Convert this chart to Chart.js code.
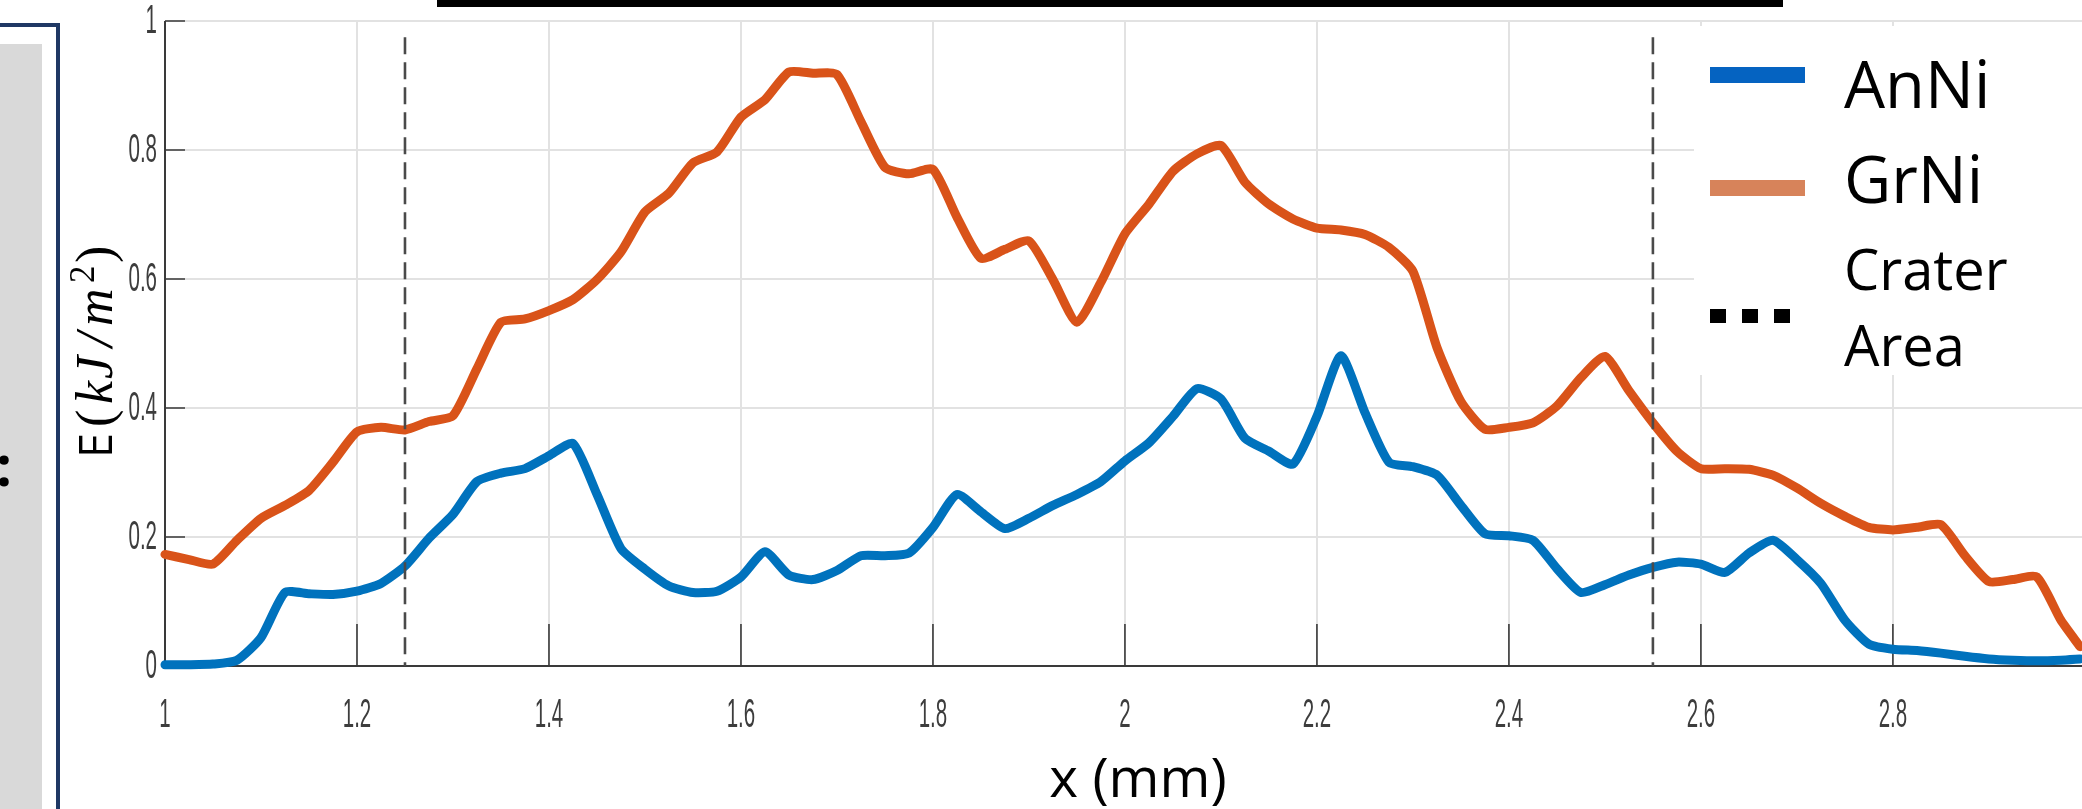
<!DOCTYPE html>
<html>
<head>
<meta charset="utf-8">
<script src="https://cdn.jsdelivr.net/npm/chart.js@4.4.1/dist/chart.umd.min.js"></script>
<style>
  html, body { margin: 0; padding: 0; background: #ffffff; }
</style>
</head>
<body>
<canvas id="energyChart" width="2082" height="809"></canvas>
<script>
// x positions along the crater profile (mm)
const positions = [
  1.000, 1.025, 1.050, 1.075, 1.100, 1.125, 1.150, 1.175, 1.200, 1.225,
  1.250, 1.275, 1.300, 1.325, 1.350, 1.375, 1.400, 1.425, 1.450, 1.475,
  1.500, 1.525, 1.550, 1.575, 1.600, 1.625, 1.650, 1.675, 1.700, 1.725,
  1.750, 1.775, 1.800, 1.825, 1.850, 1.875, 1.900, 1.925, 1.950, 1.975,
  2.000, 2.025, 2.050, 2.075, 2.100, 2.125, 2.150, 2.175, 2.200, 2.225,
  2.250, 2.275, 2.300, 2.325, 2.350, 2.375, 2.400, 2.425, 2.450, 2.475,
  2.500, 2.525, 2.550, 2.575, 2.600, 2.625, 2.650, 2.675, 2.700, 2.725,
  2.750, 2.775, 2.800, 2.825, 2.850, 2.875, 2.900, 2.925, 2.950, 2.975,
  2.995
];

// energy density E (kJ/m^2)
const anNi = [
  0.002, 0.002, 0.003, 0.009, 0.044, 0.114, 0.112, 0.111, 0.116, 0.128,
  0.155, 0.198, 0.235, 0.286, 0.299, 0.306, 0.326, 0.345, 0.266, 0.182,
  0.150, 0.124, 0.114, 0.116, 0.138, 0.177, 0.141, 0.134, 0.148, 0.171,
  0.171, 0.175, 0.215, 0.266, 0.239, 0.213, 0.229, 0.249, 0.266, 0.286,
  0.318, 0.346, 0.387, 0.430, 0.414, 0.353, 0.333, 0.313, 0.387, 0.481,
  0.393, 0.316, 0.309, 0.296, 0.249, 0.205, 0.202, 0.195, 0.151, 0.114,
  0.126, 0.141, 0.153, 0.161, 0.158, 0.145, 0.175, 0.195, 0.165, 0.128,
  0.071, 0.034, 0.026, 0.024, 0.020, 0.015, 0.011, 0.009, 0.008, 0.009,
  0.011
];

const grNi = [
  0.173, 0.165, 0.158, 0.195, 0.229, 0.249, 0.272, 0.316, 0.363, 0.370,
  0.366, 0.379, 0.388, 0.461, 0.533, 0.538, 0.551, 0.568, 0.599, 0.642,
  0.704, 0.733, 0.780, 0.797, 0.851, 0.878, 0.921, 0.919, 0.917, 0.844,
  0.773, 0.763, 0.770, 0.696, 0.632, 0.646, 0.659, 0.599, 0.533, 0.595,
  0.670, 0.716, 0.767, 0.794, 0.807, 0.750, 0.716, 0.693, 0.679, 0.676,
  0.669, 0.649, 0.612, 0.494, 0.410, 0.367, 0.370, 0.377, 0.403, 0.447,
  0.480, 0.427, 0.377, 0.333, 0.306, 0.306, 0.305, 0.296, 0.276, 0.252,
  0.232, 0.215, 0.211, 0.215, 0.219, 0.171, 0.131, 0.134, 0.138, 0.071,
  0.030
];

const xTicks = [1, 1.2, 1.4, 1.6, 1.8, 2, 2.2, 2.4, 2.6, 2.8];
const xTickLabels = ["1", "1.2", "1.4", "1.6", "1.8", "2", "2.2", "2.4", "2.6", "2.8"];
const yTicks = [0, 0.2, 0.4, 0.6, 0.8, 1];
const yTickLabels = ["0", "0.2", "0.4", "0.6", "0.8", "1"];

// edges of the crater area (mm)
const craterEdges = [1.25, 2.55];

const seriesNames = ["AnNi", "GrNi"];
const lineColors = ["#0072BD", "#D95319"];
const legendColors = ["#0563C1", "#D7835A"];

function toPoints(values) {
  return positions.map((x, i) => ({ x: x, y: values[i] }));
}

// narrow MATLAB-style tick text
function narrowText(ctx, text, x, y, align) {
  ctx.save();
  ctx.translate(x, y);
  ctx.scale(0.5, 1);
  ctx.textAlign = align;
  ctx.textBaseline = "middle";
  ctx.fillText(text, 0, 0);
  ctx.restore();
}

// page furniture around the axes (left panel edge, top bar)
const framePlugin = {
  id: "frame",
  beforeDraw(chart) {
    const ctx = chart.ctx;
    ctx.save();
    ctx.fillStyle = "#ffffff";
    ctx.fillRect(0, 0, chart.width, chart.height);
    ctx.fillStyle = "#d9d9d9";
    ctx.fillRect(0, 44, 42, 809 - 44);
    ctx.fillStyle = "#1f3864";
    ctx.fillRect(56, 23, 4, 809 - 23);
    ctx.fillRect(0, 23, 60, 4);
    ctx.fillStyle = "#000000";
    ctx.fillRect(437, 0, 1346, 7);
    ctx.font = "bold 56px 'Open Sans'";
    ctx.textAlign = "right";
    ctx.textBaseline = "alphabetic";
    ctx.fillText(":", 12, 486);
    ctx.restore();
  }
};

// axis lines and inward ticks, drawn under the curves
const axesPlugin = {
  id: "axesLines",
  beforeDatasetsDraw(chart) {
    const ctx = chart.ctx;
    const xs = chart.scales.x;
    const ys = chart.scales.y;
    const area = chart.chartArea;
    ctx.save();
    ctx.strokeStyle = "#3a3a3a";
    ctx.lineWidth = 2;
    ctx.beginPath();
    ctx.moveTo(area.left, ys.getPixelForValue(1));
    ctx.lineTo(area.left, area.bottom);
    ctx.lineTo(area.right, area.bottom);
    ctx.stroke();
    ctx.lineWidth = 1.6;
    ctx.beginPath();
    xTicks.forEach(v => {
      const px = xs.getPixelForValue(v);
      ctx.moveTo(px, area.bottom);
      ctx.lineTo(px, area.bottom - 42);
    });
    yTicks.forEach(v => {
      const py = ys.getPixelForValue(v);
      ctx.moveTo(area.left, py);
      ctx.lineTo(area.left + 20, py);
    });
    ctx.stroke();
    ctx.restore();
  }
};

// crater lines, legend, tick labels and axis titles
const overlayPlugin = {
  id: "overlay",
  afterDatasetsDraw(chart) {
    const ctx = chart.ctx;
    const xs = chart.scales.x;
    const ys = chart.scales.y;
    const area = chart.chartArea;
    ctx.save();

    // crater area markers
    ctx.strokeStyle = "#4a4a4a";
    ctx.lineWidth = 2.6;
    ctx.setLineDash([17, 8]);
    craterEdges.forEach(v => {
      const px = xs.getPixelForValue(v);
      ctx.beginPath();
      ctx.moveTo(px, ys.getPixelForValue(0.975));
      ctx.lineTo(px, area.bottom);
      ctx.stroke();
    });
    ctx.setLineDash([]);

    // tick labels
    ctx.fillStyle = "#3d3d3d";
    ctx.font = "41px 'Liberation Sans'";
    xTicks.forEach((v, i) => narrowText(ctx, xTickLabels[i], xs.getPixelForValue(v), 716, "center"));
    yTicks.forEach((v, i) => narrowText(ctx, yTickLabels[i], 157, ys.getPixelForValue(v) + 1, "right"));

    // legend
    ctx.fillStyle = "#ffffff";
    ctx.fillRect(1694, 26, chart.width - 1694, 349);
    ctx.fillStyle = legendColors[0];
    ctx.fillRect(1710, 67, 95, 16);
    ctx.fillStyle = legendColors[1];
    ctx.fillRect(1710, 180, 95, 16);
    ctx.fillStyle = "#000000";
    [1710, 1742, 1774].forEach(x => ctx.fillRect(x, 309, 16, 14));
    ctx.textAlign = "left";
    ctx.textBaseline = "alphabetic";
    ctx.font = "65px 'Open Sans'";
    ctx.fillText(seriesNames[0], 1844, 108);
    ctx.fillText(seriesNames[1], 1844, 203);
    ctx.font = "56px 'Open Sans'";
    ctx.fillText("Crater", 1844, 290);
    ctx.fillText("Area", 1844, 366);

    // x axis title
    ctx.textAlign = "center";
    ctx.font = "55px 'Open Sans'";
    ctx.fillText("x (mm)", 1138, 797);

    // y axis title: E (kJ/m^2), rotated
    ctx.translate(112, 458);
    ctx.rotate(-Math.PI / 2);
    ctx.textAlign = "left";
    ctx.font = "45px 'Open Sans'";
    ctx.fillText("E", 0, 0);
    ctx.font = "52px 'Liberation Serif'";
    ctx.fillText("(", 31, 0);
    ctx.font = "italic 52px 'Liberation Serif'";
    ctx.fillText("k", 54, 0);
    ctx.fillText("J", 79, 0);
    ctx.fillText("/", 111, 0);
    ctx.fillText("m", 132, 0);
    ctx.font = "35px 'Liberation Serif'";
    ctx.fillText("2", 175, -18);
    ctx.font = "52px 'Liberation Serif'";
    ctx.fillText(")", 195, 0);

    ctx.restore();
  }
};

const energyChart = new Chart(document.getElementById("energyChart").getContext("2d"), {
  type: "line",
  data: {
    datasets: [
      {
        label: seriesNames[0],
        data: toPoints(anNi),
        borderColor: lineColors[0],
        borderWidth: 9,
        pointRadius: 0,
        tension: 0.2,
        borderJoinStyle: "round",
        borderCapStyle: "round",
        fill: false
      },
      {
        label: seriesNames[1],
        data: toPoints(grNi),
        borderColor: lineColors[1],
        borderWidth: 9,
        pointRadius: 0,
        tension: 0.2,
        borderJoinStyle: "round",
        borderCapStyle: "round",
        fill: false
      }
    ]
  },
  options: {
    responsive: false,
    animation: false,
    clip: false,
    layout: { padding: { left: 165, right: 0, top: 21, bottom: 143 } },
    plugins: {
      legend: { display: false },
      tooltip: { enabled: false }
    },
    scales: {
      x: {
        type: "linear",
        min: 1,
        max: 2.997,
        ticks: { display: false, stepSize: 0.2, includeBounds: false },
        grid: { color: "#e2e2e2", lineWidth: 2, drawTicks: false },
        border: { display: false }
      },
      y: {
        min: 0,
        max: 1,
        ticks: { display: false, stepSize: 0.2 },
        grid: { color: "#e2e2e2", lineWidth: 2, drawTicks: false },
        border: { display: false }
      }
    }
  },
  plugins: [framePlugin, axesPlugin, overlayPlugin]
});
</script>
</body>
</html>
